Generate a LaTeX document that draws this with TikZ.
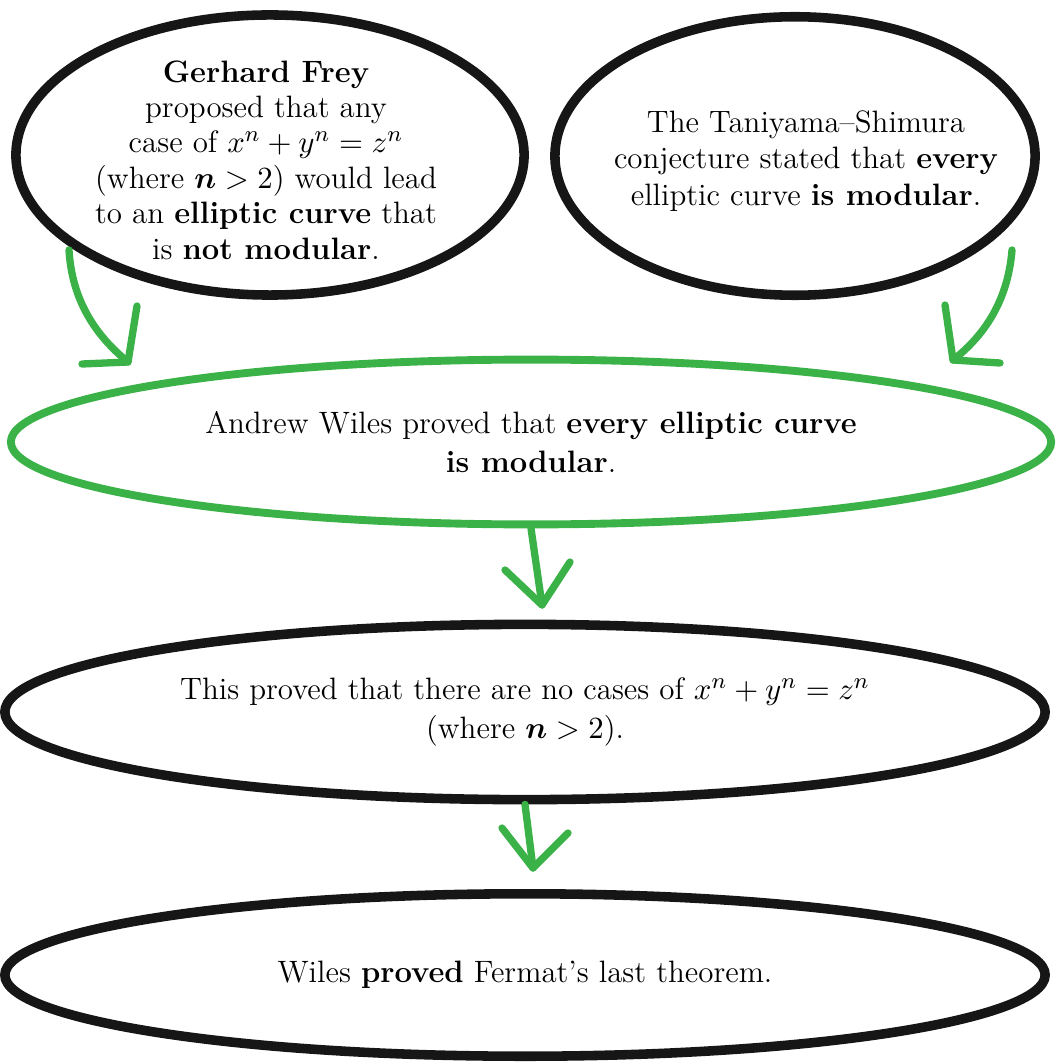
\documentclass[tikz,border=0pt]{standalone}
\usepackage{bm}
\usetikzlibrary{positioning,shapes.geometric}
\definecolor{LeafGreen}{RGB}{58,178,72}
\definecolor{InkBlack}{RGB}{22,22,22}
\tikzset{
  oval/.style={ellipse,draw=InkBlack,line width=3.4pt,align=center,
    inner sep=0pt,font=\fontsize{11}{13.9}\selectfont},
  greenoval/.style={oval,draw=LeafGreen,line width=2.8pt},
  ovaltext/.style={align=center,inner sep=0pt,font=\fontsize{11}{12.6}\selectfont},
  flow/.style={draw=LeafGreen,line width=2.6pt,line cap=round,line join=round}
}

\begin{document}
\begin{tikzpicture}[x=0.0125cm,y=-0.0125cm]
  \useasboundingbox (0,0) rectangle (1056,1064);
  % top row
  \node[oval,minimum width=6.35cm,minimum height=3.5cm] (frey) at (270,155) {};
  \node[ovaltext] (freytext) at (266,160)
    {\textbf{Gerhard Frey}\\proposed that any\\case of $x^n+y^n=z^n$\\(where $\bm{n}>2$) would lead\\to an \textbf{elliptic curve} that\\is \textbf{not modular}.};
  \node[oval,minimum width=6cm,minimum height=3.48cm] (tani) at (795,156) {};
  \node[ovaltext,font=\fontsize{11}{13}\selectfont] (tanitext) at (806,161)
    {The Taniyama--Shimura\\conjecture stated that \textbf{every}\\elliptic curve \textbf{is modular}.};
  % middle and bottom
  \node[greenoval,minimum width=13cm,minimum height=2.06cm] (wiles) at (531,442)
    {Andrew Wiles proved that \textbf{every elliptic curve}\\\textbf{is modular}.};
  \node[oval,minimum width=13cm,minimum height=2.19cm] (nocase) at (525,712)
    {This proved that there are no cases of $x^n+y^n=z^n$\\(where $\bm{n}>2$).};
  \node[oval,minimum width=13cm,minimum height=2.03cm] (fermat) at (525,975)
    {Wiles \textbf{proved} Fermat's last theorem.};
  % arrow ends
  \coordinate (fs) at (69,250);
  \coordinate (ft) at (128,362);
  \coordinate (ts) at (1012,250);
  \coordinate (tt) at (953,360);
  \coordinate (wt) at (542,605);
  \coordinate (nt) at (533,868);
  \draw[flow] (fs) .. controls (72,300) and (95,335) .. (ft);
  \draw[flow] (82,364) -- (ft) -- (137,306);
  \draw[flow] (ts) .. controls (1008,300) and (985,335) .. (tt);
  \draw[flow] (1000,363) -- (tt) -- (945,305);
  \draw[flow] (wiles.south) -- (wt);
  \draw[flow] (505,570) -- (wt) -- (570,562);
  \draw[flow] (nocase.south) -- (nt);
  \draw[flow] (502,828) -- (nt) -- (568,833);
\end{tikzpicture}
\end{document}
